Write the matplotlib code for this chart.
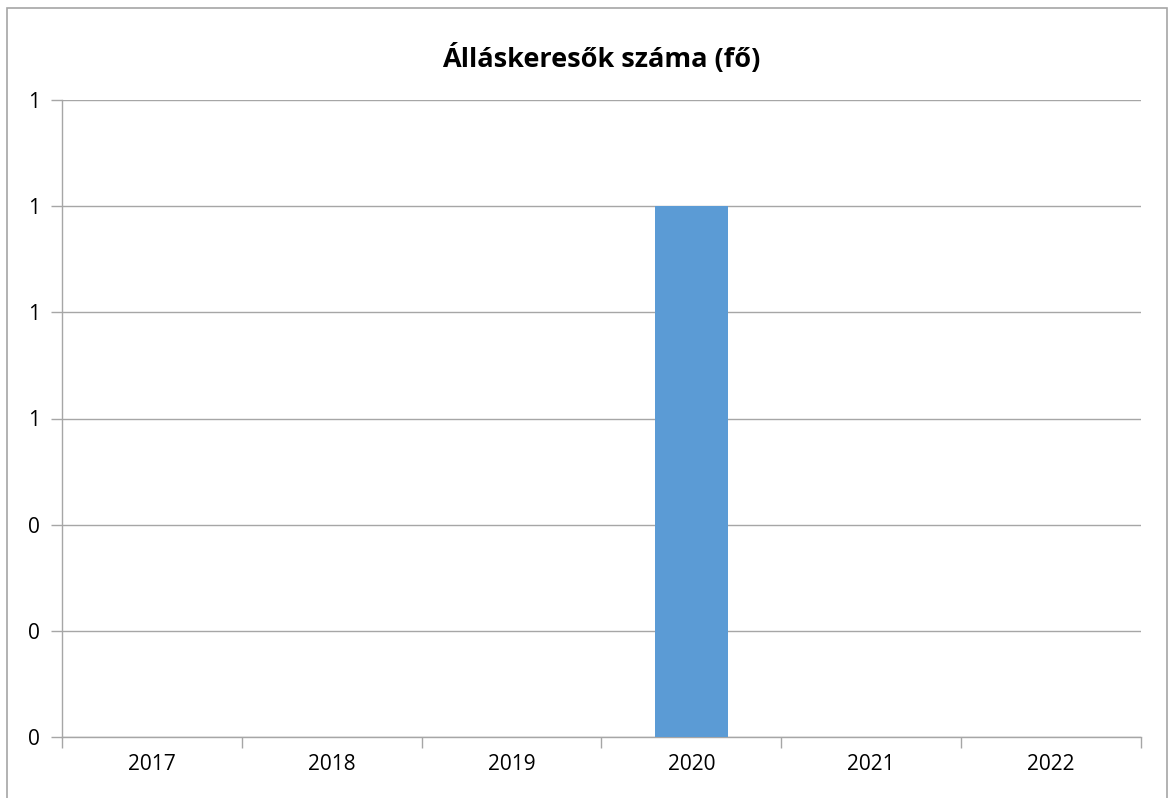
import numpy as np
import matplotlib.pyplot as plt
from matplotlib.patches import Rectangle

# ---- data ----
years = ["2017", "2018", "2019", "2020", "2021", "2022"]
values = [0, 0, 0, 1, 0, 0]
y_ticks = [0, 0.2, 0.4, 0.6, 0.8, 1.0, 1.2]
title = "Álláskeresők száma (fő)"

W, H = 1173, 798
fig = plt.figure(figsize=(W / 100, H / 100), dpi=100)
plt.rcParams['font.family'] = ['Open Sans', 'DejaVu Sans']

# outer chart border (Excel style), bottom edge lies just outside the image
fig.patches.append(Rectangle((7 / W, -0.01), (1167 - 7) / W, (H - 8) / H + 0.01,
                             transform=fig.transFigure, fill=False,
                             edgecolor='#a6a6a6', linewidth=1.2))

ax = fig.add_axes([62 / W, 1 - 737 / H, (1141 - 62) / W, (737 - 100) / H])

x = np.arange(len(years))
ax.bar(x, values, width=0.41, color='#5b9bd5', zorder=3)

ax.set_xlim(-0.5, len(years) - 0.5)
ax.set_ylim(0, 1.2)
ax.set_yticks(y_ticks)
ax.set_yticklabels([f"{v:.0f}" for v in y_ticks], fontsize=15)
ax.yaxis.grid(True, color='#a6a6a6', linewidth=1, zorder=0)

ax.set_xticks(x)
ax.set_xticklabels(years, fontsize=15)
ax.tick_params(axis='x', length=0, pad=12)
# category boundary ticks
ax.set_xticks(np.arange(-0.5, len(years)), minor=True)
ax.tick_params(axis='x', which='minor', length=8, color='#a6a6a6', width=1)
ax.tick_params(axis='y', length=8, color='#a6a6a6', width=1, pad=8)

for s in ['top', 'right']:
    ax.spines[s].set_visible(False)
for s in ['left', 'bottom']:
    ax.spines[s].set_color('#a6a6a6')
    ax.spines[s].set_linewidth(1)

fig.text((62 + 1141) / 2 / W, 1 - 58 / H, title, ha='center', va='center',
         fontsize=19.5, fontweight='bold')

fig.savefig("out.png", dpi=100)
